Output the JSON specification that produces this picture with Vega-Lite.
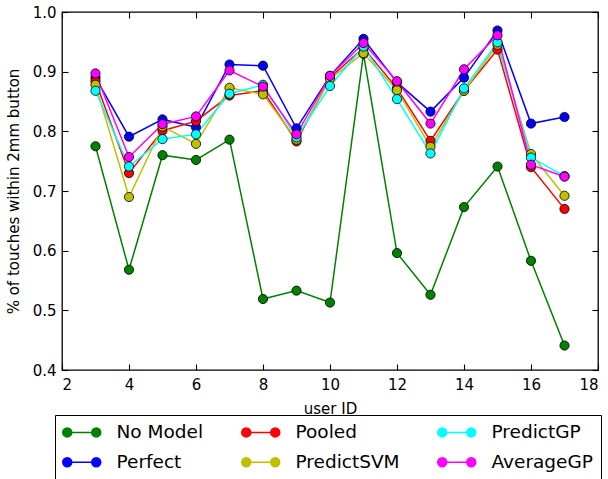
{
  "$schema": "https://vega.github.io/schema/vega-lite/v6.json",
  "width": 536,
  "height": 358,
  "autosize": {"type": "none"},
  "padding": {"left": 62, "top": 12, "right": 10, "bottom": 109},
  "background": "white",
  "config": {
    "font": "DejaVu Sans",
    "view": {"stroke": "black", "strokeWidth": 1.3},
    "axis": {"grid": false, "domain": false, "tickColor": "black", "tickWidth": 1.1, "labelColor": "black", "titleColor": "black", "labelFontSize": 15, "titleFontSize": 15, "titleFontWeight": "normal", "tickSize": -6, "labelPadding": 12}
  },
  "data": {"values": [
    {"user":3,"model":"No Model","value":0.775},{"user":4,"model":"No Model","value":0.568},{"user":5,"model":"No Model","value":0.760},{"user":6,"model":"No Model","value":0.752},{"user":7,"model":"No Model","value":0.786},{"user":8,"model":"No Model","value":0.519},{"user":9,"model":"No Model","value":0.533},{"user":10,"model":"No Model","value":0.513},{"user":11,"model":"No Model","value":0.930},{"user":12,"model":"No Model","value":0.596},{"user":13,"model":"No Model","value":0.526},{"user":14,"model":"No Model","value":0.673},{"user":15,"model":"No Model","value":0.741},{"user":16,"model":"No Model","value":0.583},{"user":17,"model":"No Model","value":0.441},
    {"user":3,"model":"Perfect","value":0.890},{"user":4,"model":"Perfect","value":0.791},{"user":5,"model":"Perfect","value":0.820},{"user":6,"model":"Perfect","value":0.807},{"user":7,"model":"Perfect","value":0.912},{"user":8,"model":"Perfect","value":0.910},{"user":9,"model":"Perfect","value":0.805},{"user":10,"model":"Perfect","value":0.893},{"user":11,"model":"Perfect","value":0.955},{"user":12,"model":"Perfect","value":0.882},{"user":13,"model":"Perfect","value":0.833},{"user":14,"model":"Perfect","value":0.890},{"user":15,"model":"Perfect","value":0.969},{"user":16,"model":"Perfect","value":0.813},{"user":17,"model":"Perfect","value":0.824},
    {"user":3,"model":"Pooled","value":0.884},{"user":4,"model":"Pooled","value":0.730},{"user":5,"model":"Pooled","value":0.801},{"user":6,"model":"Pooled","value":0.817},{"user":7,"model":"Pooled","value":0.860},{"user":8,"model":"Pooled","value":0.868},{"user":9,"model":"Pooled","value":0.783},{"user":10,"model":"Pooled","value":0.890},{"user":11,"model":"Pooled","value":0.940},{"user":12,"model":"Pooled","value":0.872},{"user":13,"model":"Pooled","value":0.784},{"user":14,"model":"Pooled","value":0.868},{"user":15,"model":"Pooled","value":0.937},{"user":16,"model":"Pooled","value":0.740},{"user":17,"model":"Pooled","value":0.670},
    {"user":3,"model":"PredictSVM","value":0.878},{"user":4,"model":"PredictSVM","value":0.690},{"user":5,"model":"PredictSVM","value":0.808},{"user":6,"model":"PredictSVM","value":0.779},{"user":7,"model":"PredictSVM","value":0.873},{"user":8,"model":"PredictSVM","value":0.862},{"user":9,"model":"PredictSVM","value":0.786},{"user":10,"model":"PredictSVM","value":0.888},{"user":11,"model":"PredictSVM","value":0.931},{"user":12,"model":"PredictSVM","value":0.869},{"user":13,"model":"PredictSVM","value":0.774},{"user":14,"model":"PredictSVM","value":0.868},{"user":15,"model":"PredictSVM","value":0.945},{"user":16,"model":"PredictSVM","value":0.762},{"user":17,"model":"PredictSVM","value":0.692},
    {"user":3,"model":"PredictGP","value":0.868},{"user":4,"model":"PredictGP","value":0.741},{"user":5,"model":"PredictGP","value":0.787},{"user":6,"model":"PredictGP","value":0.795},{"user":7,"model":"PredictGP","value":0.863},{"user":8,"model":"PredictGP","value":0.878},{"user":9,"model":"PredictGP","value":0.790},{"user":10,"model":"PredictGP","value":0.876},{"user":11,"model":"PredictGP","value":0.942},{"user":12,"model":"PredictGP","value":0.854},{"user":13,"model":"PredictGP","value":0.763},{"user":14,"model":"PredictGP","value":0.872},{"user":15,"model":"PredictGP","value":0.949},{"user":16,"model":"PredictGP","value":0.756},{"user":17,"model":"PredictGP","value":0.725},
    {"user":3,"model":"AverageGP","value":0.897},{"user":4,"model":"AverageGP","value":0.757},{"user":5,"model":"AverageGP","value":0.812},{"user":6,"model":"AverageGP","value":0.825},{"user":7,"model":"AverageGP","value":0.902},{"user":8,"model":"AverageGP","value":0.875},{"user":9,"model":"AverageGP","value":0.795},{"user":10,"model":"AverageGP","value":0.893},{"user":11,"model":"AverageGP","value":0.948},{"user":12,"model":"AverageGP","value":0.884},{"user":13,"model":"AverageGP","value":0.813},{"user":14,"model":"AverageGP","value":0.904},{"user":15,"model":"AverageGP","value":0.961},{"user":16,"model":"AverageGP","value":0.744},{"user":17,"model":"AverageGP","value":0.724}
  ]},
  "layer": [
    {
      "mark": {"type": "line", "strokeWidth": 1.5},
      "encoding": {
        "x": {"field": "user", "type": "quantitative", "scale": {"domain": [2, 18], "nice": false, "zero": false}, "axis": {"orient": "bottom", "title": "user ID", "values": [2,4,6,8,10,12,14,16,18], "titlePadding": 9, "labelPadding": 13}},
        "y": {"field": "value", "type": "quantitative", "scale": {"domain": [0.4, 1.0], "nice": false, "zero": false}, "axis": {"orient": "left", "title": "% of touches within 2mm button", "values": [0.4,0.5,0.6,0.7,0.8,0.9,1.0], "format": ".1f", "titlePadding": 11}},
        "color": {
          "field": "model", "type": "nominal",
          "scale": {"domain": ["No Model","Pooled","PredictGP","Perfect","PredictSVM","AverageGP"], "range": ["#008000","#ff0000","#00ffff","#0000ff","#bfbf00","#ff00ff"]},
          "legend": {
            "title": null, "orient": "none", "legendX": -7, "legendY": 403, "direction": "horizontal", "columns": 3,
            "strokeColor": "black", "fillColor": "white", "padding": 8, "cornerRadius": 0,
            "labelFontSize": 18.5, "labelColor": "black", "labelOffset": 35, "columnPadding": 34, "rowPadding": 11,
            "symbolType": "M -1.9 0 A 0.9 0.9 0 1 0 -0.1 0 A 0.9 0.9 0 1 0 -1.9 0 Z M -0.1 0 L 3.9 0 M 3.9 0 A 0.9 0.9 0 1 0 5.7 0 A 0.9 0.9 0 1 0 3.9 0 Z",
            "symbolSize": 100, "symbolStrokeWidth": 1.5,
            "encode": {"symbols": {"update": {"fill": {"scale": "color", "field": "value"}, "stroke": {"scale": "color", "field": "value"}, "fillOpacity": {"value": 1}}}}
          }
        },
        "detail": {"field": "model"}
      }
    },
    {
      "mark": {"type": "point", "filled": true, "size": 85, "stroke": "black", "strokeWidth": 0.8, "opacity": 1},
      "encoding": {
        "x": {"field": "user", "type": "quantitative", "axis": {"orient": "top", "title": null, "labels": false, "ticks": true, "values": [2,4,6,8,10,12,14,16,18]}},
        "y": {"field": "value", "type": "quantitative", "axis": {"orient": "right", "title": null, "labels": false, "ticks": true, "values": [0.4,0.5,0.6,0.7,0.8,0.9,1.0]}},
        "fill": {"field": "model", "type": "nominal", "scale": {"domain": ["No Model","Pooled","PredictGP","Perfect","PredictSVM","AverageGP"], "range": ["#008000","#ff0000","#00ffff","#0000ff","#bfbf00","#ff00ff"]}, "legend": null}
      }
    }
  ],
  "resolve": {"axis": {"x": "independent", "y": "independent"}}
}
